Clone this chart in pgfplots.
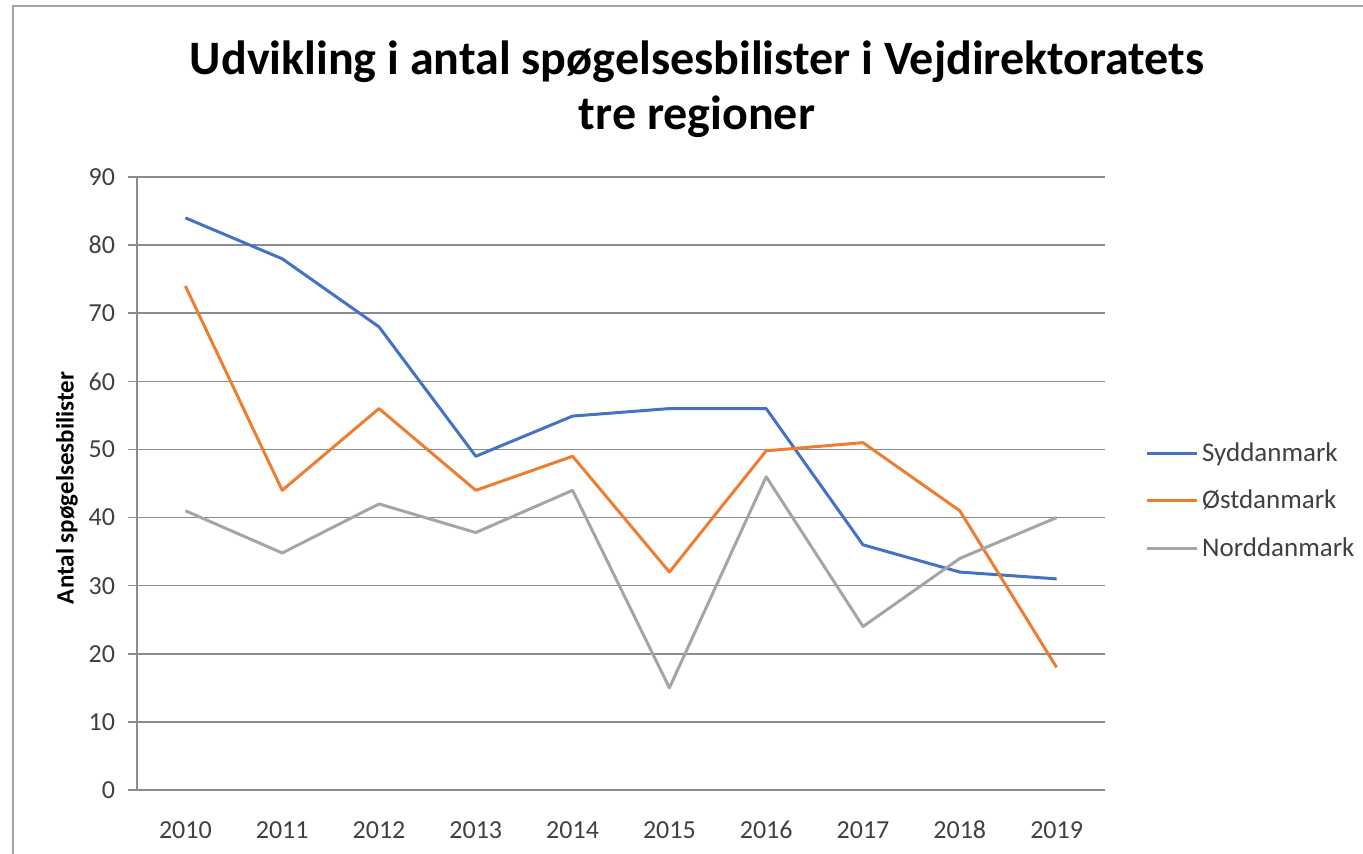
\documentclass[border=0pt]{standalone}
\usepackage{fontspec}
\setmainfont{Carlito}
\usepackage{pgfplots}
\pgfplotsset{compat=1.18}
\definecolor{sblue}{HTML}{4472C4}
\definecolor{sorange}{HTML}{ED7D31}
\definecolor{sgray}{HTML}{A5A5A5}
\definecolor{gridc}{HTML}{8C8C8C}
\definecolor{txt}{HTML}{404040}
\begin{document}
\begin{tikzpicture}[x=0.5pt,y=0.5pt]
\useasboundingbox (0,0) rectangle (1363,853);
\draw[gridc!80, line width=1pt] (13,-10) -- (13,847) -- (1380,847);
\node[font=\bfseries\fontsize{24}{27.5}\selectfont, align=center] at (697,763.5) {Udvikling i antal spøgelsesbilister i Vejdirektoratets\\tre regioner};
\begin{axis}[
  at={(68.5pt,31.5pt)}, anchor=south west,
  scale only axis, width=484pt, height=306.5pt,
  xmin=-0.5, xmax=9.5, ymin=0, ymax=90,
  axis x line=bottom, axis y line=left,
  axis line style={gridc, line width=0.75pt, -},
  xtick={0,...,9},
  xticklabels={2010,2011,2012,2013,2014,2015,2016,2017,2018,2019},
  xtick style={draw=none},
  minor xtick={-0.5,0.5,...,9.5},
  minor x tick style={gridc, line width=0.75pt},
  minor tick length=4.5pt,
  ytick={0,10,...,90},
  ytick style={gridc, line width=0.75pt},
  major tick length=4.5pt,
  tick align=outside,
  ymajorgrids,
  major grid style={gridc, line width=0.75pt},
  tick label style={font=\fontsize{13}{15}\selectfont, text=txt},
  xticklabel style={anchor=north, text height=9pt, text depth=0pt, yshift=-7pt},
  yticklabel style={xshift=-3pt},
  /pgf/number format/assume math mode=true,
  ylabel={Antal spøgelsesbilister},
  ylabel style={font=\bfseries\fontsize{12.5}{14}\selectfont, at={(axis description cs:-0.0723,0.4927)}, anchor=center},
  legend style={at={(1.041,0.4715)}, anchor=west, draw=none, fill=none, inner sep=0pt,
    font=\fontsize{13.5}{16}\selectfont, text=txt, row sep=9pt, legend cell align=left},
  legend image code/.code={\draw[#1] (0cm,0cm) -- (25pt,0cm);},
  every axis plot/.append style={line width=1.5pt, line join=round},
]
\addplot[sblue] coordinates {(0,84) (1,78) (2,68) (3,49) (4,54.9) (5,56) (6,56) (7,36) (8,32) (9,31)};
\addplot[sorange] coordinates {(0,74) (1,44) (2,56) (3,44) (4,49) (5,32) (6,49.8) (7,51) (8,41) (9,18)};
\addplot[sgray] coordinates {(0,41) (1,34.8) (2,42) (3,37.8) (4,44) (5,15) (6,46) (7,24) (8,34) (9,40)};
\legend{Syddanmark,Østdanmark,Norddanmark}
\end{axis}
\end{tikzpicture}
\end{document}
